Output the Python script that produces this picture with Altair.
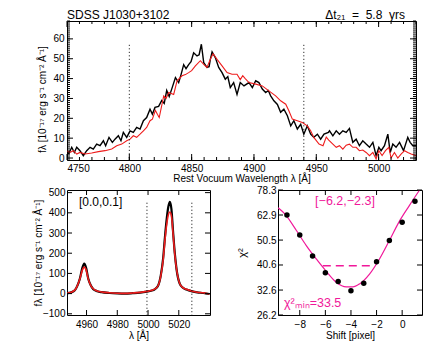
import altair as alt
import pandas as pd

FONT = "Liberation Sans"
RED = "#ee1c1c"
MAGENTA = "#f0189a"

# ---------------- top panel: broad H-beta, two epochs ----------------
top_lam_black = [4749.7, 4751.5, 4753.8, 4755.9, 4757.8, 4760.4, 4763.1, 4765.8, 4768.5, 4771.1,
                 4773.8, 4776.5, 4779.2, 4781.0, 4783.7, 4786.4, 4788.5, 4791.2, 4793.3, 4795.2,
                 4797.9, 4800.6, 4803.2, 4805.9, 4808.6, 4811.3, 4813.9, 4816.6, 4818.5, 4820.6,
                 4823.5, 4826.0, 4828.0, 4830.0, 4832.0, 4834.0, 4837.0, 4839.6, 4841.5, 4843.6,
                 4845.5, 4847.6, 4849.5, 4851.6, 4854.3, 4856.0, 4857.8, 4859.7, 4862.3, 4864.0,
                 4865.0, 4866.4, 4869.0, 4871.7, 4874.4, 4877.0, 4879.0, 4881.0, 4883.7, 4886.4,
                 4889.0, 4892.0, 4896.0, 4898.7, 4901.4, 4904.0, 4906.7, 4909.4, 4911.5, 4913.4,
                 4916.0, 4918.8, 4921.4, 4924.0, 4926.8, 4929.5, 4932.0, 4934.8, 4937.5, 4940.0,
                 4942.8, 4945.5, 4948.0, 4950.9, 4953.5, 4956.2, 4959.7, 4960.6, 4963.3, 4966.0,
                 4968.6, 4971.3, 4974.0, 4976.6, 4979.3, 4982.0, 4984.6, 4987.3, 4990.0, 4992.7,
                 4995.4, 4998.0, 5000.2, 5002.0, 5004.7, 5007.4, 5009.3, 5011.4, 5014.0, 5016.8,
                 5020.0, 5023.4, 5025.3, 5027.5, 5030.0]
top_flux_black = [3.0, 2.2, 5.4, 2.8, 5.4, 3.7, 1.2, 3.7, 5.4, 4.5,
                  7.0, 6.2, 8.7, 6.2, 10.4, 7.9, 9.5, 11.2, 8.7, 12.9,
                  10.4, 13.7, 12.9, 15.4, 14.6, 18.8, 20.4, 24.6, 22.1, 25.5,
                  26.0, 29.0, 27.5, 34.0, 31.0, 34.7, 40.5, 38.0, 42.0, 47.0,
                  45.0, 47.0, 48.5, 53.0, 51.4, 52.0, 57.3, 48.0, 45.6, 46.0,
                  49.7, 53.4, 50.6, 45.6, 43.0, 39.7, 41.0, 35.5, 38.0, 32.0,
                  38.0, 36.3, 38.0, 35.5, 38.9, 38.0, 34.7, 33.0, 34.0, 31.3,
                  28.8, 27.0, 23.0, 24.6, 21.3, 16.2, 18.8, 14.6, 17.0, 12.0,
                  16.2, 12.0, 10.4, 12.0, 9.5, 12.0, 12.9, 13.7, 11.2, 13.7,
                  12.0, 13.7, 12.9, 14.9, 7.9, 9.5, 6.2, 8.7, 7.0, 5.4,
                  7.9, 1.2, 5.4, 3.7, 6.2, 12.0, 2.8, 7.0, 5.4, 7.9,
                  3.7, 10.4, 7.9, 6.2, 6.2]
top_lam_red = [4749.7, 4752.4, 4755.1, 4757.8, 4760.4, 4764.5, 4769.8, 4775.2, 4780.5, 4785.9,
               4789.9, 4793.9, 4797.9, 4800.6, 4803.2, 4805.9, 4808.6, 4811.3, 4813.9, 4816.6,
               4818.5, 4820.9, 4822.5, 4824.0, 4827.6, 4829.5, 4831.6, 4835.6, 4838.3, 4842.3,
               4845.0, 4847.6, 4850.0, 4853.0, 4857.0, 4859.7, 4862.3, 4865.0, 4867.2, 4870.4,
               4874.4, 4878.4, 4882.4, 4886.4, 4889.0, 4891.0, 4893.0, 4896.0, 4901.4, 4906.7,
               4912.0, 4917.4, 4921.4, 4925.5, 4928.0, 4930.8, 4934.8, 4938.8, 4942.8, 4945.5,
               4948.0, 4952.2, 4955.4, 4958.0, 4960.0, 4963.3, 4966.0, 4968.6, 4971.3, 4974.0,
               4976.6, 4979.3, 4982.0, 4984.6, 4987.3, 4990.0, 4992.7, 4995.4, 4998.0, 5000.2,
               5002.8, 5005.5, 5008.2, 5010.0, 5012.7, 5015.4, 5018.0, 5020.8, 5023.4, 5026.1,
               5030.0]
top_flux_red = [3.7, 2.8, 3.7, 2.0, 2.8, 2.0, 2.5, 3.2, 3.7, 4.5,
                6.2, 7.0, 8.7, 9.5, 11.2, 10.4, 12.0, 13.7, 15.4, 18.8,
                19.6, 24.0, 22.0, 20.4, 31.3, 30.0, 33.0, 32.0, 38.9, 41.4,
                42.0, 43.0, 44.0, 46.4, 49.0, 47.2, 45.6, 49.7, 52.5, 49.7,
                46.4, 43.0, 42.2, 42.2, 39.5, 41.5, 40.0, 38.0, 37.2, 36.3,
                33.8, 31.3, 28.8, 27.1, 23.8, 19.6, 18.8, 17.9, 16.2, 13.7,
                10.4, 7.0, 6.2, 10.5, 9.0, 7.0, 5.4, 6.2, 4.5, 6.5,
                7.0, 5.4, 5.4, 3.7, 4.0, 2.8, 1.2, 2.8, -0.5, 3.7,
                1.2, 3.7, 5.4, 0.0, 2.8, 0.0, 2.0, 3.7, 2.8, 2.0,
                1.2]
top_windows = [4800, 4940]
top_window_top = [57]
top_xdomain = [4750, 5030]
top_ydomain = [-1, 69]
top_xmajor = [4750, 4800, 4850, 4900, 4950, 5000]
top_xminor = list(range(4760, 5031, 10))
top_ymajor = [0, 10, 20, 30, 40, 50, 60]
top_yminor = list(range(-1, 70, 1))

# ---------------- bottom left: [O III] ----------------
o3_lam = [4947.5, 4950, 4952.4, 4954, 4955.7, 4957.2, 4958.5, 4959.8, 4961.1, 4962.8,
          4964.4, 4967, 4969.8, 4975, 4980, 4985, 4990, 4995, 4999.3, 5002,
          5004.5, 5006.6, 5008.3, 5009.8, 5011, 5012, 5013.2, 5014.2, 5015.2, 5016.3,
          5017.4, 5018.5, 5020.6, 5022.5, 5025, 5028.7, 5032, 5036, 5040]
o3_black = [2, 6, 16, 38, 75, 125, 148, 125, 75, 40,
            22, 12, 7, 3, 1, 0, 2, 5, 10, 14,
            22, 40, 90, 173, 280, 360, 430, 454, 420, 305,
            200, 123, 49, 30, 20, 11, 6, 3, -2]
o3_red = [3, 7, 17, 38, 73, 115, 131, 115, 73, 40,
          24, 13, 8, 4, 2, 1, 3, 6, 11, 15,
          23, 40, 88, 165, 265, 335, 390, 404, 385, 295,
          195, 123, 50, 31, 21, 12, 7, 4, -2]
o3_windows = [4999.3, 5028.5]
o3_window_top = [450]
o3_xdomain = [4947.3, 5040.3]
o3_ydomain = [-106, 513]
o3_xmajor = [4960, 4980, 5000, 5020]
o3_ymajor = [-100, 0, 100, 200, 300, 400, 500]
o3_label = "[0.0,0.1]"

# ---------------- bottom right: chi-square vs shift ----------------
shift_pts = [-9, -8, -7, -6, -5, -4, -3, -2, -1, 0, 1]
chi2_pts = [62.9, 52.8, 43.9, 37.9, 35.1, 32.4, 34.6, 41.8, 50.3, 59.0, 71.0]
fit_shift = [-9.69, -9.17, -8.26, -7.49, -6.71, -5.93, -5.15, -4.37, -3.85, -3.33,
             -2.55, -1.77, -1.0, -0.22, 0.56, 1.34]
fit_chi2 = [67.0, 63.5, 54.9, 48.1, 42.8, 38.4, 34.9, 33.5, 33.5, 34.4,
            37.5, 42.8, 50.3, 59.5, 68.3, 78.0]
conf_range = [-6.2, -2.3]
conf_level = [40.3]
chi2_min = 33.5
chi_xdomain = [-9.7, 1.55]
chi_ydomain = [26.2, 78.3]
chi_xmajor = [-8, -6, -4, -2, 0]
chi_ymajor = [26.2, 32.6, 40.6, 50.5, 62.9, 78.3]


def edge_ticks(xdom, ydom, xs, ys, xvals, yvals, size):
    """Inward-pointing tick marks along the four edges of a panel frame."""
    layers = []
    if yvals:
        for edge, off in [(xdom[0], size / 2), (xdom[1], -size / 2)]:
            d = pd.DataFrame({"v": yvals, "e": [edge] * len(yvals)})
            layers.append(
                alt.Chart(d).mark_tick(orient="horizontal", size=size, thickness=1,
                                       xOffset=off, color="black", opacity=1).encode(
                    x=alt.X("e:Q", scale=xs, axis=None),
                    y=alt.Y("v:Q", scale=ys, axis=None)))
    if xvals:
        for edge, off in [(ydom[0], -size / 2), (ydom[1], size / 2)]:
            d = pd.DataFrame({"v": xvals, "e": [edge] * len(xvals)})
            layers.append(
                alt.Chart(d).mark_tick(orient="vertical", size=size, thickness=1,
                                       yOffset=off, color="black", opacity=1).encode(
                    x=alt.X("v:Q", scale=xs, axis=None),
                    y=alt.Y("e:Q", scale=ys, axis=None)))
    return layers


ytitle = "fλ [10⁻¹⁷ erg s⁻¹ cm⁻² Å⁻¹]"
NB = "\u00a0"

# ---------- top ----------
TW, TH = 349, 139
tx = alt.Scale(domain=top_xdomain, nice=False, zero=False)
ty = alt.Scale(domain=top_ydomain, nice=False, zero=False)
df_tb = pd.DataFrame({"lam": top_lam_black, "flux": top_flux_black})
df_tr = pd.DataFrame({"lam": top_lam_red, "flux": top_flux_red})
df_tw = pd.DataFrame({"lam": top_windows, "y": top_window_top * len(top_windows),
                      "y2": [top_ydomain[0]] * len(top_windows)})

top_black = alt.Chart(df_tb).mark_line(color="black", strokeWidth=1.4, clip=True).encode(
    x=alt.X("lam:Q", scale=tx, axis=alt.Axis(values=top_xmajor, format="d",
                                             ticks=False, domain=False, grid=False,
                                             labelPadding=3, titlePadding=0,
                                             title="Rest Vocuum Wavelength λ [Å]")),
    y=alt.Y("flux:Q", scale=ty, axis=alt.Axis(values=top_ymajor, format="d",
                                              ticks=False, domain=False, grid=False,
                                              labelPadding=3, titlePadding=4,
                                              minExtent=16, maxExtent=16, titleY=78,
                                              title=ytitle)),
)
top_red = alt.Chart(df_tr).mark_line(color=RED, strokeWidth=1.1, clip=True).encode(
    x=alt.X("lam:Q", scale=tx, axis=None), y=alt.Y("flux:Q", scale=ty, axis=None))
top_rules = alt.Chart(df_tw).mark_rule(color="black", strokeDash=[1, 2.5], strokeWidth=1).encode(
    x=alt.X("lam:Q", scale=tx, axis=None), y=alt.Y("y:Q", scale=ty, axis=None), y2="y2:Q")
top_hdr_l = alt.Chart(pd.DataFrame({"t": ["SDSS" + NB + "J1030+3102"]})).mark_text(
    align="left", baseline="alphabetic", fontSize=12, font=FONT).encode(
    x=alt.value(0), y=alt.value(-2), text="t:N")
top_hdr_r = alt.Chart(pd.DataFrame({"t": ["Δt₂₁" + NB + " =" + NB + " 5.8" + NB + " yrs"]})).mark_text(
    align="right", baseline="alphabetic", fontSize=12, font=FONT).encode(
    x=alt.value(TW - 11), y=alt.value(-2), text="t:N")

top_ticks = (edge_ticks(top_xdomain, top_ydomain, tx, ty, top_xmajor, top_ymajor, 6)
             + edge_ticks(top_xdomain, top_ydomain, tx, ty, top_xminor, top_yminor, 3))

top = alt.layer(top_black, top_red, top_rules, top_hdr_l, top_hdr_r, *top_ticks).resolve_axis(
    x="independent", y="independent").properties(width=TW, height=TH)

# ---------- bottom left ----------
BW, BH = 143, 125
ox = alt.Scale(domain=o3_xdomain, nice=False, zero=False)
oy = alt.Scale(domain=o3_ydomain, nice=False, zero=False)
df_o3 = pd.DataFrame({"lam": o3_lam, "black": o3_black, "red": o3_red})
df_ow = pd.DataFrame({"lam": o3_windows, "y": o3_window_top * len(o3_windows),
                      "y2": [o3_ydomain[0]] * len(o3_windows)})
o3_black_l = alt.Chart(df_o3).mark_line(color="black", strokeWidth=2.2, interpolate="monotone",
                                        clip=True).encode(
    x=alt.X("lam:Q", scale=ox, axis=alt.Axis(values=o3_xmajor, format="d",
                                             ticks=False, domain=False, grid=False,
                                             labelPadding=4, titlePadding=1, title="λ [Å]")),
    y=alt.Y("black:Q", scale=oy, axis=alt.Axis(values=o3_ymajor, format="d",
                                               ticks=False, domain=False, grid=False,
                                               labelPadding=2, titlePadding=4,
                                               minExtent=20, maxExtent=20, title=ytitle)),
)
o3_red_l = alt.Chart(df_o3).mark_line(color=RED, strokeWidth=1.6, interpolate="monotone",
                                      clip=True).encode(
    x=alt.X("lam:Q", scale=ox, axis=None), y=alt.Y("red:Q", scale=oy, axis=None))
o3_rules = alt.Chart(df_ow).mark_rule(color="black", strokeDash=[1, 2.5], strokeWidth=1).encode(
    x=alt.X("lam:Q", scale=ox, axis=None), y=alt.Y("y:Q", scale=oy, axis=None), y2="y2:Q")
o3_txt = alt.Chart(pd.DataFrame({"t": [o3_label]})).mark_text(
    align="left", baseline="middle", fontSize=12, font=FONT).encode(
    x=alt.value(12), y=alt.value(12), text="t:N")
o3_ticks = edge_ticks(o3_xdomain, o3_ydomain, ox, oy, o3_xmajor, o3_ymajor, 5)
bl = alt.layer(o3_black_l, o3_red_l, o3_rules, o3_txt, *o3_ticks).resolve_axis(
    x="independent", y="independent").properties(width=BW, height=BH)

# ---------- bottom right ----------
RW, RH = 144, 125
cx = alt.Scale(domain=chi_xdomain, nice=False, zero=False)
cy = alt.Scale(type="log", domain=chi_ydomain, nice=False)
df_pts = pd.DataFrame({"s": shift_pts, "c": chi2_pts})
df_fit = pd.DataFrame({"s": fit_shift, "c": fit_chi2})
df_conf = pd.DataFrame({"s": [conf_range[0]], "s2": [conf_range[1]], "c": conf_level})
fit_line = alt.Chart(df_fit).mark_line(color=MAGENTA, strokeWidth=1.2, interpolate="monotone",
                                       clip=True).encode(
    x=alt.X("s:Q", scale=cx, axis=alt.Axis(values=chi_xmajor, format="d",
                                           ticks=False, domain=False, grid=False,
                                           labelPadding=4, titlePadding=1,
                                           title="Shift [pixel]")),
    y=alt.Y("c:Q", scale=cy, axis=alt.Axis(values=chi_ymajor, format=".1f",
                                           ticks=False, domain=False, grid=False,
                                           labelPadding=2, titlePadding=4,
                                           minExtent=27, maxExtent=27, title="χ²",
                                           titleFontSize=11)),
)
pts = alt.Chart(df_pts).mark_circle(color="black", size=30, opacity=1).encode(
    x=alt.X("s:Q", scale=cx, axis=None), y=alt.Y("c:Q", scale=cy, axis=None))
conf = alt.Chart(df_conf).mark_rule(color=MAGENTA, strokeDash=[8, 5], strokeWidth=1.5).encode(
    x=alt.X("s:Q", scale=cx, axis=None), x2="s2:Q", y=alt.Y("c:Q", scale=cy, axis=None))
conf_label = f"[{conf_range[0]},{conf_range[1]}]".replace("-", "−")
conf_txt = alt.Chart(pd.DataFrame({"t": [conf_label]})).mark_text(
    align="center", baseline="middle", fontSize=12.5, font=FONT, color=MAGENTA).encode(
    x=alt.value(67), y=alt.value(11), text="t:N")
min_txt = alt.Chart(pd.DataFrame({"t": [f"χ²ₘᵢₙ={chi2_min}"]})).mark_text(
    align="left", baseline="alphabetic", fontSize=12.5, font=FONT, color=MAGENTA).encode(
    x=alt.value(6), y=alt.value(117), text="t:N")
chi_ticks = edge_ticks(chi_xdomain, chi_ydomain, cx, cy, chi_xmajor, chi_ymajor, 5)
br = alt.layer(fit_line, pts, conf, conf_txt, min_txt, *chi_ticks).resolve_axis(
    x="independent", y="independent").properties(width=RW, height=RH)

chart = alt.vconcat(
    top,
    alt.hconcat(bl, br, spacing=24),
    spacing=0,
).configure(
    font=FONT,
    padding={"left": 24, "top": 0, "right": 5, "bottom": 0},
).configure_view(
    stroke="black", strokeWidth=1
).configure_axis(
    labelFont=FONT, titleFont=FONT, labelFontSize=10, titleFontSize=10,
    labelColor="black", titleColor="black", titleFontWeight="normal",
)

chart.save("out.html", embed_options={"renderer": "svg", "actions": False})
